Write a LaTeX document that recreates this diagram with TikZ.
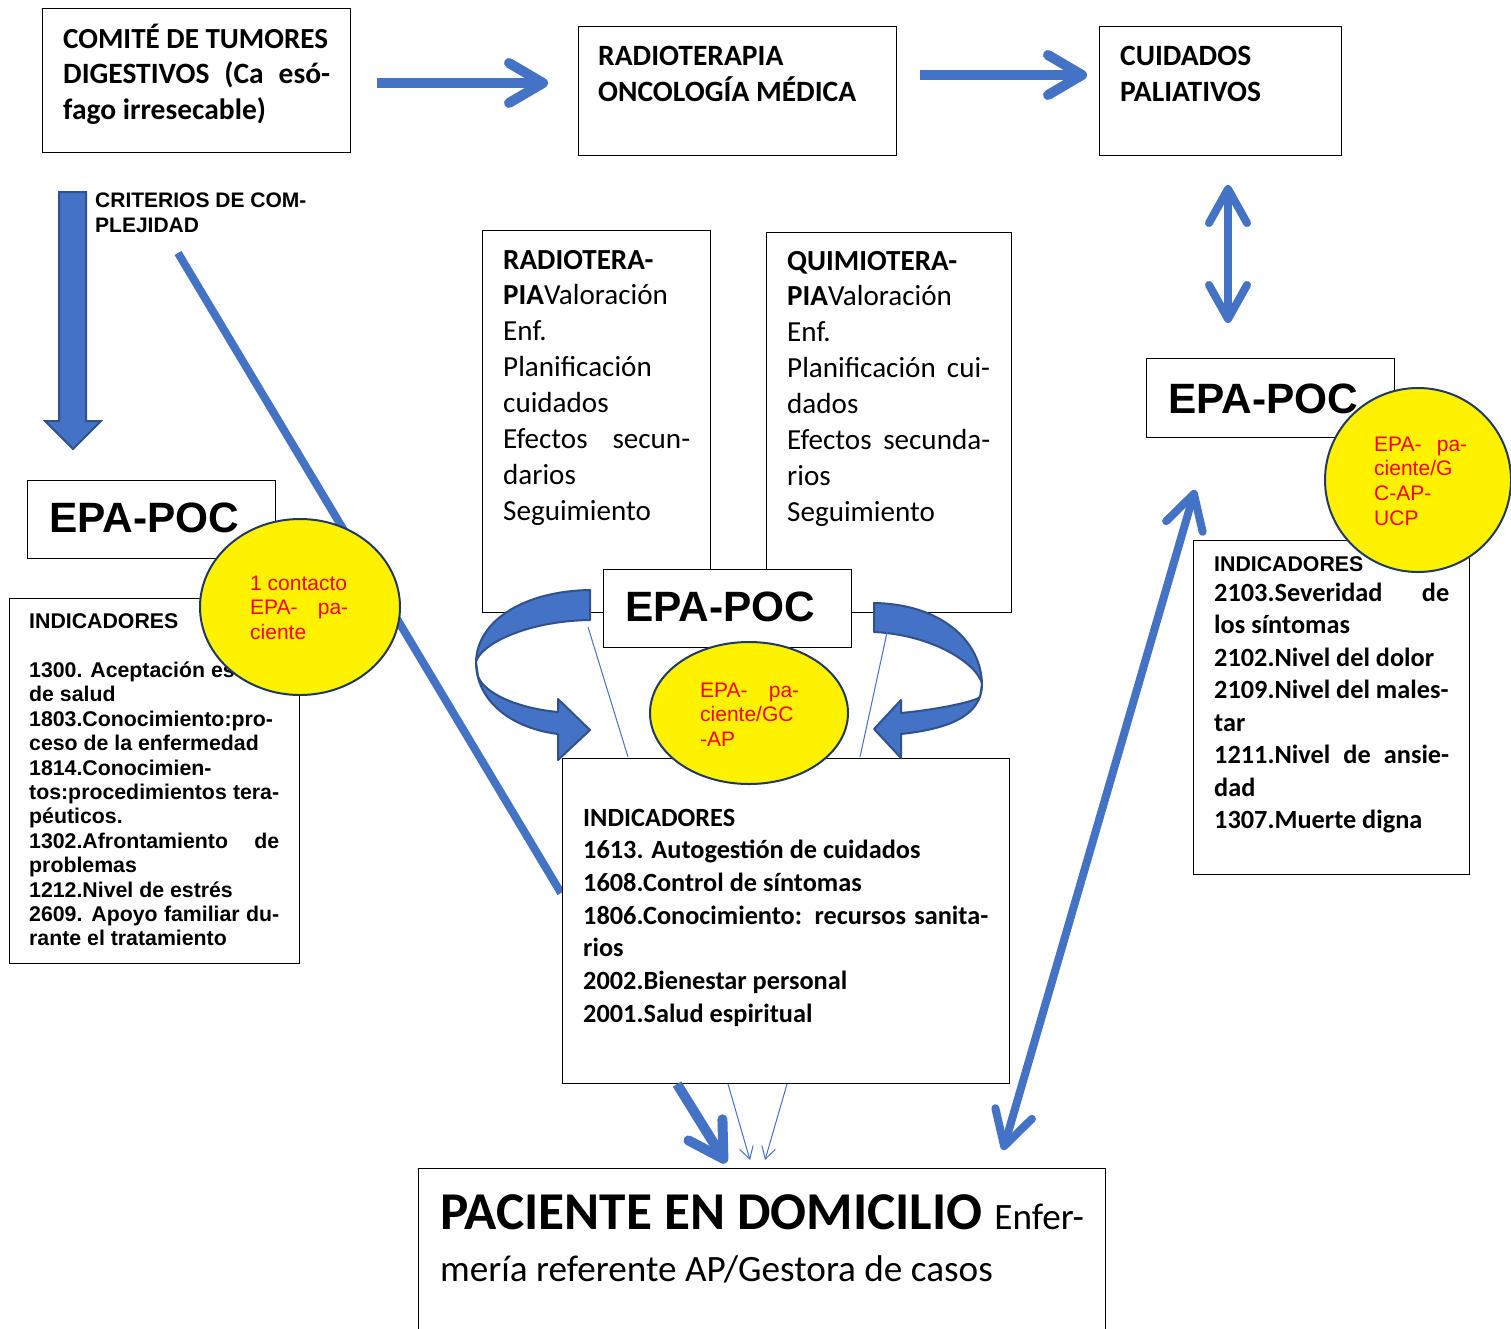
\documentclass[tikz,border=0pt]{standalone}
\usepackage{fontspec}
\setmainfont{Carlito}
\newfontfamily\arialf{Liberation Sans}
\usetikzlibrary{arrows.meta,shapes.geometric}
\definecolor{ablue}{HTML}{4472C4}
\definecolor{dblue}{HTML}{2F528F}
\definecolor{navy}{HTML}{203864}
\newcommand\tlines[6]{\foreach \txtline [count=\lnum from 0] in {#6}{\node[tl,#1] (#2-\lnum) at (#3,{#4+\lnum*#5}) {\txtline};}}
\tikzset{
  box/.style={draw=black,line width=1.4pt,fill=white,inner sep=0pt,anchor=north west,rectangle},
  tl/.style={anchor=base west,inner sep=0pt},
  fTop/.style={font=\bfseries\fontsize{29.5}{35}\selectfont},
  fCrit/.style={font=\arialf\bfseries\fontsize{21}{25}\selectfont},
  fEpa/.style={font=\arialf\bfseries\fontsize{42.4}{50}\selectfont},
  fIndA/.style={font=\arialf\bfseries\fontsize{21.3}{24}\selectfont},
  fIndC/.style={font=\bfseries\fontsize{26.3}{31}\selectfont},
  fMid/.style={font=\fontsize{29.1}{35}\selectfont},
  fEll/.style={font=\arialf\fontsize{21}{24}\selectfont,text=red},
  fBig/.style={font=\bfseries\fontsize{53.2}{60}\selectfont},
  fBig2/.style={font=\fontsize{37.2}{42}\selectfont},
  bigarr/.style={draw=ablue,line width=10pt,-{Straight Barb[length=34pt,width=40pt,round]}},
  dblarr/.style={draw=ablue,line width=8pt,{Straight Barb[length=34pt,width=38pt,round]}-{Straight Barb[length=34pt,width=38pt,round]}},
  thinarr/.style={draw=ablue,line width=1pt,-{Straight Barb[length=12pt,width=14pt]}},
  thinln/.style={draw=ablue,line width=1pt},
  yell/.style={ellipse,draw=navy,line width=2pt,fill=yellow,inner sep=0pt},
  band/.style={fill=ablue,draw=dblue,line width=2pt,line join=round},
}
\begin{document}
\begin{tikzpicture}[x=1pt,y=-1pt]
\useasboundingbox[fill=white] (0,0) rectangle (1511,1328);

% block arrow down and diagonal line
\fill[ablue,draw=dblue,line width=2pt] (59,192) -- (86,192) -- (86,421) -- (101,421) -- (73,449) -- (45,421) -- (59,421) -- cycle;
\coordinate (dgs) at (178,253);
\coordinate (dge) at (561,893);
\draw[ablue,line width=8pt] (dgs) -- (dge);

% boxes
\node[box,minimum width=308pt,minimum height=144pt] (cmt) at (42,8) {};
\node[box,minimum width=318pt,minimum height=129pt] (rad) at (578,26) {};
\node[box,minimum width=242pt,minimum height=129pt] (cui) at (1099,26) {};
\node[box,minimum width=248pt,minimum height=78pt] (epaL) at (27,480) {};
\node[box,minimum width=290pt,minimum height=365pt] (indL) at (9,598) {};
\node[box,minimum width=228pt,minimum height=382pt] (radT) at (482,230) {};
\node[box,minimum width=245pt,minimum height=380pt] (qui) at (766,232) {};
\node[box,minimum width=447pt,minimum height=325pt] (indC) at (562,758) {};
\node[box,minimum width=248pt,minimum height=79pt] (epaR) at (1146,358) {};
\node[box,minimum width=276pt,minimum height=334pt] (indR) at (1193,540) {};
\node[box,minimum width=687pt,minimum height=200pt] (pac) at (418,1168) {};

% texts of top boxes
\tlines{fTop}{cmtT}{63}{48}{35.5}{{\fontsize{29.1}{35}\selectfont COMITÉ DE TUMORES},{\makebox[267pt][s]{DIGESTIVOS (Ca esó-}},fago irresecable)}
\tlines{fTop}{radL}{598}{65}{36}{RADIOTERAPIA,ONCOLOGÍA MÉDICA}
\tlines{fTop}{cuiL}{1120}{65}{36}{CUIDADOS,PALIATIVOS}
\tlines{fCrit}{crit}{95}{207}{25}{CRITERIOS DE COM-,PLEJIDAD}

% left side
\node[tl,fEpa] (epaLt) at (49,532) {EPA-POC};
\node[tl,fIndA] (indLh) at (29,628) {INDICADORES};
\tlines{fIndA}{indLt}{29}{677.5}{24.4}{1300. Aceptación es,de salud,1803.Conocimiento:pro-,ceso de la enfermedad,1814.Conocimien-,{\makebox[250pt][s]{tos:procedimientos tera-}},péuticos.,{\makebox[250pt][s]{1302.Afrontamiento de}},problemas,1212.Nivel de estrés,{\makebox[250pt][s]{2609. Apoyo familiar du-}},rante el tratamiento}

% central boxes
\tlines{fMid}{radTt}{503}{269}{35.9}{{\textbf{RADIOTERA-}},{\textbf{PIA}Valoración},Enf.,Planificación,cuidados,{\makebox[187pt][s]{Efectos secun-}},darios,Seguimiento}
\tlines{fMid}{quiT}{787}{270}{35.9}{{\textbf{QUIMIOTERA-}},{\textbf{PIA}Valoración},Enf.,{\makebox[203pt][s]{Planificación cui-}},dados,{\makebox[203pt][s]{Efectos secunda-}},rios,Seguimiento}
\tlines{fIndC}{indCt}{583}{826}{32.7}{INDICADORES,1613. Autogestión de cuidados,1608.Control de síntomas,{\makebox[405pt][s]{1806.Conocimiento: recursos sanita-}},rios,2002.Bienestar personal,2001.Salud espiritual}

% right side
\node[tl,fEpa] (epaRt) at (1168,413) {EPA-POC};
\node[tl,fIndA] (indRh) at (1214,571) {INDICADORES};
\tlines{fIndC}{indRt}{1214}{601}{32.5}{{\makebox[235pt][s]{2103.Severidad de}},los síntomas,2102.Nivel del dolor,2109.Nivel del males-,tar,{\makebox[235pt][s]{1211.Nivel de ansie-}},dad,1307.Muerte digna}

% bottom
\node[tl,fBig] (pacT) at (440,1229) {PACIENTE EN DOMICILIO {\fontsize{37.2}{42}\selectfont\mdseries Enfer-}};
\node[tl,fBig2] (pacT2) at (440,1281) {mería referente AP/Gestora de casos};

% curved arrows
\draw[band] (590,590) .. controls (525,591) and (477,620) .. (476,662) .. controls (480,645) and (525,621) .. (590,620) -- cycle;
\draw[band] (476,662) .. controls (476,700) and (510,728) .. (558,734) -- (558,760) -- (590,730) -- (558,699) -- (558,712) .. controls (515,708) and (483,692) .. (478,676) -- cycle;
\draw[band] (874,603) .. controls (940,604) and (981,640) .. (982,684) .. controls (978,665) and (935,635) .. (874,632) -- cycle;
\draw[band] (982,684) .. controls (982,716) and (948,729) .. (901,734) -- (901,758) -- (874,729) -- (901,700) -- (901,713) .. controls (942,709) and (976,701) .. (980,697) -- cycle;

% central EPA-POC
\node[box,minimum width=248pt,minimum height=78pt] (epaC) at (603,569) {};
\node[tl,fEpa] (epaCt) at (625,621) {EPA-POC};

% thin lines
\coordinate (tl1s) at (588,627); \coordinate (tl1e) at (628,757);
\coordinate (tl2s) at (888,628); \coordinate (tl2e) at (860,757);
\draw[thinln] (tl1s) -- (tl1e);
\draw[thinln] (tl2s) -- (tl2e);

% ellipses
\node[yell,minimum width=200pt,minimum height=176pt] (e1) at (300,607) {};
\tlines{fEll}{e1t}{250}{590}{24.5}{1 contacto,{\makebox[98pt][s]{EPA- pa-}},ciente}
\node[yell,minimum width=198pt,minimum height=142pt] (e2) at (749,713) {};
\tlines{fEll}{e2t}{700}{697}{24.5}{{\makebox[99pt][s]{EPA- pa-}},ciente/GC,-AP}
\node[yell,minimum width=186pt,minimum height=184pt] (e3) at (1418,480) {};
\tlines{fEll}{e3t}{1374}{451}{24.7}{{\makebox[93pt][s]{EPA- pa-}},ciente/G,C-AP-,UCP}

% arrows
\coordinate (a1s) at (377,83); \coordinate (a1e) at (548,83);
\draw[bigarr] (a1s) -- (a1e);
\coordinate (a2s) at (920,75); \coordinate (a2e) at (1087,75);
\draw[bigarr] (a2s) -- (a2e);
\coordinate (a3s) at (1228,185); \coordinate (a3e) at (1228,323);
\draw[dblarr] (a3s) -- (a3e);
\coordinate (a4s) at (1003,1150); \coordinate (a4e) at (1195,490);
\draw[dblarr] (a4s) -- (a4e);
\coordinate (a5s) at (677,1084); \coordinate (a5e) at (726,1163);
\draw[bigarr] (a5s) -- (a5e);
\coordinate (a6s) at (728,1084); \coordinate (a6e) at (750,1160);
\coordinate (a7s) at (787,1084); \coordinate (a7e) at (765,1160);
\draw[thinarr] (a6s) -- (a6e);
\draw[thinarr] (a7s) -- (a7e);
\end{tikzpicture}
\end{document}
